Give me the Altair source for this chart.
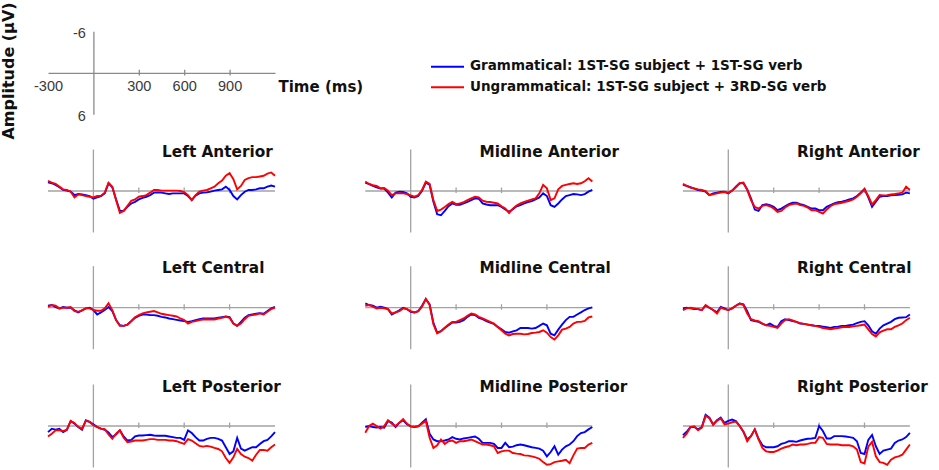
import altair as alt
import pandas as pd

# ---------------- data ----------------
TIMES = list(range(-300, 1201, 25))
CONDITIONS = ["Grammatical: 1ST-SG subject + 1ST-SG verb",
              "Ungrammatical: 1ST-SG subject + 3RD-SG verb"]
PANELS = ["Left Anterior", "Midline Anterior", "Right Anterior",
          "Left Central", "Midline Central", "Right Central",
          "Left Posterior", "Midline Posterior", "Right Posterior"]
X_SPAN = [-300, 1200]
Y_SPAN = [-6, 6]
X_TICKS = [300, 600, 900]
X_TICK_LABELS = ["-300", "300", "600", "900"]
X_TICK_VALUES = [-300, 300, 600, 900]
Y_TICK_LABELS = ["-6", "6"]
Y_TICK_VALUES = [-6, 6]
X_TITLE = "Time (ms)"
Y_TITLE = "Amplitude (\u03bcV)"

# amplitude in microvolts (negative plotted up), one value every 25 ms from -300 to 1200
LA_G = [-1.27, -1.12, -0.88, -0.54, -0.15, -0.05, 0.1, 0.59, 0.44, 0.49, 0.59, 0.73, 1.12, 0.93, 0.73, 0.34,
        -1.1, -0.54, 1.22, 2.88, 2.88, 2.3, 1.8, 1.56, 1.22, 0.98, 0.83, 0.59, 0.24, 0.2, 0.24, 0.34, 0.44, 0.34,
        0.34, 0.34, 0.34, 0.73, 1.32, 0.68, 0.34, 0.24, 0.2, 0.1, -0.05, -0.15, -0.24, -0.63, -0.15, 0.73, 1.22,
        0.59, 0.1, -0.15, -0.15, -0.24, -0.39, -0.39, -0.63, -0.78, -0.63]
LA_U = [-1.46, -1.22, -1.02, -0.63, -0.24, -0.15, 0.1, 0.93, 0.49, 0.59, 0.73, 0.83, 0.93, 0.73, 0.68, 0.24,
        -1.2, -0.63, 1.32, 3.17, 2.88, 2.15, 1.41, 1.22, 0.83, 0.73, 0.59, 0.24, -0.15, -0.15, -0.05, -0.05, -0.05,
        -0.05, -0.05, 0.0, 0.15, 0.59, 1.32, 0.59, 0.1, -0.05, -0.15, -0.39, -0.63, -1.12, -1.5, -2.2, -2.59, -1.7,
        -0.24, -0.73, -1.6, -1.85, -2.0, -2.0, -2.1, -2.2, -2.5, -2.68, -2.2]
MA_G = [-1.22, -0.98, -0.73, -0.54, -0.34, -0.34, 0.24, 0.93, 0.24, 0.1, 0.15, 0.34, 0.83, 0.93, 0.73, -0.05,
        -1.22, -0.88, 1.56, 3.37, 3.51, 2.88, 2.2, 1.8, 2.0, 2.0, 1.8, 1.56, 1.32, 1.07, 1.12, 1.8, 1.95, 2.05, 2.05,
        2.05, 2.3, 2.68, 3.0, 2.63, 2.2, 2.05, 1.8, 1.6, 1.46, 1.22, 0.93, 0.34, 0.73, 2.05, 2.3, 1.8, 1.22, 0.73,
        0.59, 0.44, 0.49, 0.59, 0.44, 0.1, -0.15]
MA_U = [-1.37, -1.02, -0.83, -0.73, -0.39, -0.44, -0.05, 0.59, 0.34, 0.34, 0.34, 0.44, 0.63, 0.83, 0.59, -0.15,
        -1.37, -1.02, 1.32, 2.88, 2.68, 2.3, 1.9, 1.56, 1.9, 1.8, 1.6, 1.32, 1.07, 0.83, 0.93, 1.41, 1.56, 1.6, 1.7,
        1.8, 2.2, 2.54, 3.17, 2.54, 2.1, 1.8, 1.56, 1.41, 1.22, 1.07, 0.34, -0.88, -0.39, 1.32, 1.07, -0.24, -0.73,
        -0.88, -1.02, -1.12, -1.02, -1.12, -1.41, -1.85, -1.37]
RA_G = [-0.88, -0.73, -0.54, -0.34, -0.15, -0.05, 0.1, 0.59, 0.34, 0.24, 0.15, 0.1, 0.34, -0.05, -0.63, -1.12,
        -1.12, -0.24, 1.07, 2.68, 2.88, 2.05, 1.9, 2.05, 2.3, 2.78, 2.54, 2.2, 1.9, 1.7, 1.7, 1.9, 2.05, 2.3, 2.54,
        2.54, 2.78, 2.78, 2.3, 2.05, 1.8, 1.61, 1.56, 1.41, 1.22, 1.07, 0.73, 0.24, -0.29, 0.93, 2.3, 1.56, 0.83,
        0.73, 0.73, 0.63, 0.59, 0.54, 0.49, 0.24, 0.34]
RA_U = [-1.02, -0.73, -0.49, -0.39, -0.24, -0.15, 0.0, 0.59, 0.49, 0.34, 0.24, 0.15, 0.24, -0.05, -0.54, -1.12,
        -1.22, -0.15, 1.32, 2.3, 2.54, 2.15, 2.05, 2.2, 2.54, 3.02, 2.88, 2.39, 2.05, 1.9, 1.8, 2.05, 2.15, 2.39,
        2.78, 2.78, 3.02, 3.27, 2.68, 2.2, 1.9, 1.8, 1.7, 1.56, 1.41, 1.22, 0.83, 0.34, -0.24, 0.73, 1.95, 1.32,
        0.59, 0.63, 0.59, 0.49, 0.44, 0.34, 0.24, -0.63, -0.15]
LC_G = [-0.29, -0.39, -0.1, 0.1, -0.1, 0.0, 0.0, 0.39, 0.68, 0.39, 0.1, 0.0, 0.34, 0.98, 0.68, 0.34, -0.1, 0.49,
        1.8, 2.54, 2.63, 2.44, 1.95, 1.46, 1.17, 0.98, 0.98, 1.07, 1.07, 1.17, 1.32, 1.41, 1.56, 1.66, 1.76, 1.85,
        1.95, 2.05, 1.95, 1.8, 1.66, 1.56, 1.56, 1.56, 1.56, 1.46, 1.37, 1.27, 1.37, 2.29, 2.63, 2.05, 1.46, 1.07,
        0.98, 0.88, 0.78, 0.88, 0.49, 0.1, -0.1]
LC_U = [-0.1, -0.39, -0.29, 0.1, 0.0, 0.0, -0.1, 0.49, 0.59, 0.39, 0.1, 0.1, 0.34, 0.44, 0.44, 0.1, -0.63, 0.34,
        1.8, 2.63, 2.63, 2.44, 1.95, 1.37, 1.07, 0.83, 0.68, 0.59, 0.49, 0.68, 0.88, 0.98, 1.07, 1.17, 1.27, 1.56,
        1.8, 2.29, 2.05, 1.95, 1.8, 1.71, 1.66, 1.71, 1.71, 1.56, 1.46, 1.32, 1.46, 2.29, 2.63, 2.29, 1.66, 1.17,
        1.07, 0.98, 0.83, 0.98, 0.59, 0.2, 0.0]
MC_G = [-0.63, -0.39, -0.29, 0.0, -0.15, 0.0, 0.2, 0.98, 0.68, 0.39, 0.0, 0.2, 0.59, 0.68, 0.49, -0.29, -1.27,
        -0.49, 2.2, 3.6, 3.4, 2.93, 2.54, 2.15, 2.15, 2.05, 1.8, 1.32, 0.98, 1.07, 1.46, 1.66, 1.95, 2.15, 2.34,
        2.78, 3.12, 3.51, 3.61, 3.41, 3.27, 2.93, 2.93, 2.93, 3.02, 2.93, 2.63, 2.29, 2.54, 3.76, 4.0, 3.17, 2.44,
        1.8, 1.32, 1.32, 0.98, 0.68, 0.34, 0.1, -0.05]
MC_U = [-0.29, -0.39, -0.15, 0.1, 0.0, 0.1, 0.2, 0.83, 0.68, 0.49, 0.1, 0.2, 0.49, 0.68, 0.49, -0.15, -1.27,
        -0.39, 2.4, 3.7, 3.4, 2.9, 2.44, 2.05, 2.05, 1.8, 1.56, 1.17, 0.83, 0.98, 1.32, 1.56, 1.8, 2.05, 2.29, 2.78,
        3.27, 3.76, 4.0, 3.8, 3.76, 3.76, 3.85, 3.8, 3.66, 3.61, 3.51, 3.27, 3.61, 4.24, 4.59, 4.0, 3.17, 3.02, 2.78,
        2.29, 2.05, 2.05, 1.9, 1.41, 1.27]
RC_G = [0.1, 0.0, 0.1, 0.2, 0.2, 0.34, -0.29, 0.0, 0.34, 0.68, -0.1, 0.1, 0.34, 0.1, -0.29, -0.59, -0.49, 0.49,
        1.8, 1.95, 2.05, 2.29, 2.54, 2.29, 2.63, 2.78, 1.95, 1.66, 1.8, 1.95, 2.05, 2.29, 2.34, 2.44, 2.54, 2.63,
        2.63, 2.73, 2.83, 2.93, 2.78, 2.73, 2.63, 2.63, 2.54, 2.44, 2.24, 2.05, 1.95, 2.54, 3.41, 3.76, 3.02, 2.54,
        2.29, 2.05, 1.66, 1.46, 1.41, 1.37, 0.98]
RC_U = [0.34, 0.1, 0.0, 0.1, 0.2, 0.34, -0.39, 0.0, 0.34, 0.83, 0.0, 0.2, 0.34, 0.1, -0.29, -0.59, -0.39, 0.83,
        1.66, 1.85, 1.95, 2.29, 2.54, 2.63, 2.78, 2.93, 2.29, 1.8, 1.66, 1.85, 2.05, 2.24, 2.34, 2.44, 2.54, 2.63,
        2.78, 2.93, 3.02, 3.12, 3.02, 2.93, 2.83, 2.78, 2.78, 2.68, 2.63, 2.54, 2.44, 3.12, 3.8, 4.15, 3.56, 3.32,
        3.12, 3.12, 2.78, 2.54, 2.29, 1.8, 1.46]
LP_G = [0.88, 0.39, 0.54, 0.39, 0.88, 0.54, -0.73, -0.34, 0.15, 0.54, -0.83, -0.59, -0.24, 0.15, 0.39, 0.54,
        0.93, 1.61, 1.22, 0.63, 1.51, 2.1, 2.0, 1.51, 1.37, 1.37, 1.32, 1.27, 1.37, 1.41, 1.41, 1.41, 1.51, 1.61,
        1.71, 1.71, 2.0, 0.63, 1.02, 1.61, 2.1, 2.1, 1.85, 1.71, 1.71, 1.85, 2.1, 3.07, 4.05, 3.66, 1.71, 3.27,
        3.56, 3.32, 3.07, 3.07, 2.59, 2.2, 2.0, 1.51, 0.88]
LP_U = [1.51, 1.12, 0.63, 0.63, 0.73, 0.54, -0.73, -0.44, 0.15, 0.39, -0.73, -0.59, -0.1, 0.15, 0.39, 0.44, 1.22,
        1.85, 1.12, 0.63, 1.71, 2.34, 2.24, 2.1, 2.1, 2.1, 2.0, 1.9, 1.9, 2.0, 2.0, 2.0, 2.1, 2.1, 2.2, 2.39, 2.59,
        1.9, 2.1, 2.49, 2.88, 2.98, 2.88, 2.98, 3.17, 3.32, 3.66, 4.63, 5.32, 4.54, 3.32, 4.05, 4.44, 4.63, 5.02,
        4.15, 3.46, 3.46, 3.56, 3.07, 2.68]
MP_G = [0.15, 0.0, 0.15, 0.24, 0.15, 0.24, -0.73, -0.49, 0.15, -0.49, -0.83, -0.24, 0.05, 0.15, 0.05, -0.49,
        -0.98, 1.12, 1.95, 2.2, 2.2, 2.1, 1.95, 1.61, 1.85, 1.95, 1.8, 1.71, 1.61, 1.51, 1.85, 2.44, 2.44, 2.44,
        2.59, 3.17, 3.17, 2.44, 3.07, 2.98, 2.78, 2.68, 2.78, 2.93, 3.07, 3.17, 3.27, 3.56, 4.39, 3.76, 2.93, 4.15,
        3.41, 2.93, 2.68, 2.2, 1.46, 1.02, 0.88, 0.49, 0.15]
MP_U = [0.98, 0.0, -0.34, 0.0, 0.39, 0.0, -0.83, -0.34, 0.0, -0.49, -0.98, -0.34, 0.05, 0.1, 0.0, -0.34, -0.73,
        1.71, 3.17, 2.78, 1.95, 2.59, 2.2, 2.1, 2.44, 2.2, 2.2, 2.1, 1.95, 2.2, 2.44, 2.68, 2.68, 2.78, 2.93, 3.9,
        3.66, 3.56, 3.56, 3.9, 4.0, 4.05, 4.24, 4.29, 4.39, 4.54, 4.73, 5.22, 5.61, 5.51, 5.22, 5.12, 5.02, 4.88,
        5.37, 4.24, 3.27, 3.17, 3.17, 2.68, 2.44]
RP_G = [1.32, 0.83, 0.15, 0.15, 0.49, 0.15, -1.61, -1.22, -0.24, -0.83, -1.22, -0.44, -0.73, -0.93, -0.73, 0.0,
        0.83, 1.95, 1.46, 0.49, 1.85, 2.78, 3.07, 3.07, 3.07, 2.93, 2.59, 2.44, 2.2, 2.2, 2.29, 2.1, 1.95, 1.85,
        1.8, 1.71, 0.0, 0.73, 1.8, 1.8, 1.46, 1.46, 1.46, 1.51, 1.61, 1.71, 2.2, 3.9, 4.05, 2.0, 1.3, 2.93, 4.05,
        3.56, 3.41, 3.27, 2.44, 2.1, 1.95, 1.61, 0.98]
RP_U = [1.71, 1.12, 0.15, 0.05, 0.63, 0.24, -1.46, -1.12, -0.15, -0.73, -1.12, -0.24, -0.34, -0.54, -0.63, 0.0,
        0.83, 2.2, 1.46, 0.49, 1.95, 3.17, 3.66, 3.76, 3.76, 3.56, 3.27, 3.07, 2.93, 2.68, 2.78, 2.68, 2.68, 2.59,
        2.44, 2.44, 1.61, 1.71, 2.59, 2.68, 2.68, 2.68, 2.78, 2.78, 2.78, 2.93, 3.41, 5.22, 5.41, 3.0, 2.3, 4.39,
        5.22, 5.32, 5.61, 4.88, 4.54, 4.39, 4.15, 3.41, 2.68]

GRAM = [LA_G, MA_G, RA_G, LC_G, MC_G, RC_G, LP_G, MP_G, RP_G]
UNGRAM = [LA_U, MA_U, RA_U, LC_U, MC_U, RC_U, LP_U, MP_U, RP_U]

rows = []
for name, g, u in zip(PANELS, GRAM, UNGRAM):
    for cond, series in ((CONDITIONS[0], g), (CONDITIONS[1], u)):
        assert len(series) == len(TIMES), (name, cond, len(series))
        for t, v in zip(TIMES, series):
            rows.append({"panel": name, "condition": cond, "time": t, "amp": v})
df = pd.DataFrame(rows)

# ---------------- layout / style ----------------
COL_X0 = [48.0, 365.3, 682.9]
ROW_BASE = [191.0, 307.7, 426.0]
PANEL_W = 227.0
HALF_H = 41.5
TOP_X0, TOP_BASE = 48.5, 73.3
LEGEND_ROWS = [66.7, 87.3]
GRID_GRAY = "#a3a3a3"
AXIS_GRAY = "#8a8a8a"
BOLD_FONT = "DejaVu Sans"
NUM_FONT = "Liberation Sans"

color_scale = alt.Scale(domain=CONDITIONS, range=["#0000ff", "#ff0000"])
color_enc = alt.Color("condition:N", scale=color_scale, legend=None)


def make_scales(x0, base):
    xs = alt.Scale(domain=X_SPAN, range=[x0, x0 + PANEL_W], nice=False, zero=False)
    ys = alt.Scale(domain=Y_SPAN, range=[base - HALF_H, base + HALF_H], nice=False, zero=False)
    return xs, ys


def frame_layers(xs, ys, color):
    span = pd.DataFrame({"t0": [X_SPAN[0]], "t1": [X_SPAN[1]], "a0": [Y_SPAN[0]], "a1": [Y_SPAN[1]]})
    horiz = alt.Chart(span).mark_rule(color=color, strokeWidth=1.3).encode(
        x=alt.X("t0:Q", scale=xs, axis=None), x2="t1:Q",
        y=alt.YDatum(0, scale=ys, axis=None, type="quantitative"))
    vert = alt.Chart(span).mark_rule(color=color, strokeWidth=1.3).encode(
        x=alt.XDatum(0, scale=xs, axis=None, type="quantitative"),
        y=alt.Y("a0:Q", scale=ys, axis=None), y2="a1:Q")
    ticks = alt.Chart(pd.DataFrame({"t": X_TICKS})).mark_rule(color=color, strokeWidth=1.3).encode(
        x=alt.X("t:Q", scale=xs, axis=None),
        y=alt.YDatum(-0.5, scale=ys, axis=None, type="quantitative"),
        y2=alt.Y2Datum(0.3))
    return [horiz, vert, ticks]


layers = []

# reference axes (top-left)
xs_t, ys_t = make_scales(TOP_X0, TOP_BASE)
layers += frame_layers(xs_t, ys_t, AXIS_GRAY)
layers.append(
    alt.Chart(pd.DataFrame({"t": X_TICK_VALUES, "label": X_TICK_LABELS})).mark_text(
        font=NUM_FONT, fontSize=14.5, color="#3a3a3a", baseline="middle", dy=14).encode(
        x=alt.X("t:Q", scale=xs_t, axis=None),
        y=alt.YDatum(0, scale=ys_t, axis=None, type="quantitative"),
        text="label:N"))
layers.append(
    alt.Chart(pd.DataFrame({"a": Y_TICK_VALUES, "label": Y_TICK_LABELS})).mark_text(
        font=NUM_FONT, fontSize=14.5, color="#3a3a3a", baseline="middle", align="right", dx=-8, dy=2).encode(
        x=alt.XDatum(0, scale=xs_t, axis=None, type="quantitative"),
        y=alt.Y("a:Q", scale=ys_t, axis=None),
        text="label:N"))
layers.append(
    alt.Chart(pd.DataFrame({"label": [X_TITLE]})).mark_text(
        font=BOLD_FONT, fontWeight="bold", fontSize=15, color="#111111",
        baseline="middle", align="left", dx=3, dy=14).encode(
        x=alt.XDatum(X_SPAN[1], scale=xs_t, axis=None, type="quantitative"),
        y=alt.YDatum(0, scale=ys_t, axis=None, type="quantitative"),
        text="label:N"))
layers.append(
    alt.Chart(pd.DataFrame({"label": [Y_TITLE]})).mark_text(
        font=BOLD_FONT, fontWeight="bold", fontSize=16, color="#111111",
        baseline="alphabetic", align="center", angle=270).encode(
        x=alt.value(13.5), y=alt.value(71), text="label:N"))

# legend (built from the condition names and the shared colour scale)
legend_y = alt.Scale(type="point", domain=CONDITIONS, range=LEGEND_ROWS, padding=0)
legend_df = pd.DataFrame({"condition": CONDITIONS})
layers.append(
    alt.Chart(legend_df).mark_rule(strokeWidth=2).encode(
        x=alt.value(431), x2=alt.value(464),
        y=alt.Y("condition:N", scale=legend_y, axis=None),
        color=color_enc))
layers.append(
    alt.Chart(legend_df).mark_text(
        font=BOLD_FONT, fontWeight="bold", fontSize=13.5, color="#111111",
        align="left", baseline="middle", dy=-0.5).encode(
        x=alt.value(470),
        y=alt.Y("condition:N", scale=legend_y, axis=None),
        text="condition:N"))

# nine electrode-region panels
for i, name in enumerate(PANELS):
    r, c = divmod(i, 3)
    xs, ys = make_scales(COL_X0[c], ROW_BASE[r])
    layers += frame_layers(xs, ys, GRID_GRAY)
    for cond in CONDITIONS:
        layers.append(
            alt.Chart(df).transform_filter(
                (alt.datum.panel == name) & (alt.datum.condition == cond)
            ).mark_line(strokeWidth=1.9).encode(
                x=alt.X("time:Q", scale=xs, axis=None),
                y=alt.Y("amp:Q", scale=ys, axis=None),
                color=color_enc))
    layers.append(
        alt.Chart(pd.DataFrame({"panel": [name]})).mark_text(
            font=BOLD_FONT, fontWeight="bold", fontSize=15.3, color="#111111",
            baseline="alphabetic", align="left", dy=7.1).encode(
            x=alt.XDatum(454, scale=xs, axis=None, type="quantitative"),
            y=alt.YDatum(Y_SPAN[0], scale=ys, axis=None, type="quantitative"),
            text="panel:N"))

chart = alt.layer(*layers).resolve_scale(
    x="independent", y="independent"
).properties(
    width=939, height=470, padding=0, background="white",
    autosize=alt.AutoSizeParams(type="none"),
).configure_view(stroke=None)

chart.save("out.html", embed_options={"renderer": "svg", "actions": False})
